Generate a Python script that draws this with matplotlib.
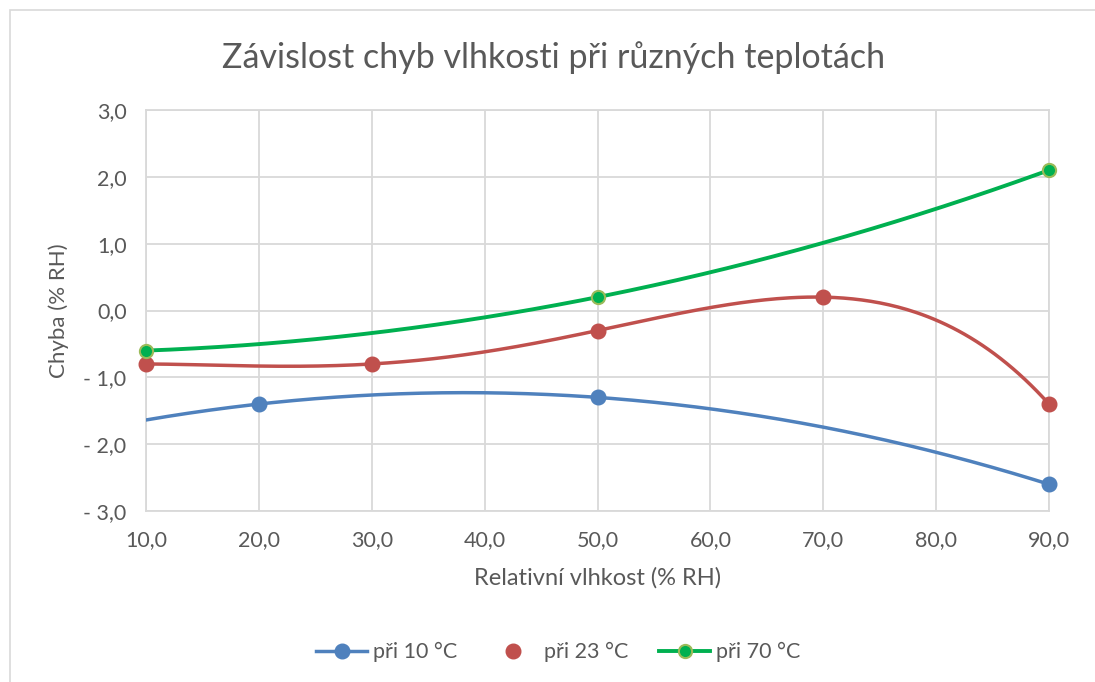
import numpy as np
import matplotlib
matplotlib.use("Agg")
import matplotlib.pyplot as plt
from matplotlib.lines import Line2D
from matplotlib.patches import Rectangle
from matplotlib.ticker import FuncFormatter, MultipleLocator

plt.rcParams["font.family"] = ["Lato", "DejaVu Sans"]

# naměřené chyby (% RH)
rh_10 = [20, 50, 90]
err_10 = [-1.4, -1.3, -2.6]
rh_23 = [10, 30, 50, 70, 90]
err_23 = [-0.8, -0.8, -0.3, 0.2, -1.4]
rh_70 = [10, 50, 90]
err_70 = [-0.6, 0.2, 2.1]

labels = ["při 10 °C", "při 23 °C", "při 70 °C"]

text_col = "#595959"
grid_col = "#D9D9D9"
blue = "#4F81BD"
red = "#C0504D"
green = "#00B050"
green_edge = "#9BBB59"

fig = plt.figure(figsize=(10.95, 6.82), dpi=100)
fig.patches.append(Rectangle((10 / 1095, -0.1), 1.2, 1 - 10 / 682 + 0.1,
                             transform=fig.transFigure, fill=False,
                             edgecolor=grid_col, lw=1.2))
ax = fig.add_axes([146 / 1095, 1 - 511 / 682, (1049 - 146) / 1095, (511 - 110) / 682])

xs = np.linspace(10, 90, 300)

# polynomiální trendy
p10 = np.polyfit(rh_10, err_10, 2)
p23 = np.polyfit(rh_23, err_23, 4)
p70 = np.polyfit(rh_70, err_70, 2)

ax.plot(xs, np.polyval(p10, xs), color=blue, lw=2.5, solid_capstyle="round", zorder=3)
ax.plot(xs, np.polyval(p23, xs), color=red, lw=2.5, solid_capstyle="round", zorder=3)
ax.plot(xs, np.polyval(p70, xs), color=green, lw=2.8, solid_capstyle="round", zorder=3)

ax.plot(rh_10, err_10, "o", color=blue, ms=10.5, mec=blue, clip_on=False, zorder=4)
ax.plot(rh_23, err_23, "o", color=red, ms=10.5, mec=red, clip_on=False, zorder=4)
ax.plot(rh_70, err_70, "o", color=green, ms=9.5, mec=green_edge, mew=1.5, clip_on=False, zorder=5)

ax.set_xlim(10, 90)
ax.set_ylim(-3, 3)
ax.xaxis.set_major_locator(MultipleLocator(10))
ax.yaxis.set_major_locator(MultipleLocator(1))


def fmt(v, pos):
    s = f"{abs(v):.1f}".replace(".", ",")
    return ("- " + s) if v < -1e-9 else s


ax.xaxis.set_major_formatter(FuncFormatter(lambda v, p: f"{v:.1f}".replace(".", ",")))
ax.yaxis.set_major_formatter(FuncFormatter(fmt))
ax.grid(True, color=grid_col, lw=1.3)
ax.set_axisbelow(True)
for s in ax.spines.values():
    s.set_color(grid_col)
    s.set_linewidth(1.3)
ax.tick_params(length=0, labelsize=15.5, labelcolor=text_col, pad=14)

ax.set_xlabel("Relativní vlhkost (% RH)", fontsize=17, color=text_col, labelpad=12)
ax.set_ylabel("Chyba (% RH)", fontsize=16, color=text_col, labelpad=10)
fig.text(554 / 1095, 1 - 58 / 682,
         "Závislost chyb vlhkosti při různých teplotách",
         ha="center", va="center", fontsize=24.5, color=text_col)

handles = [
    Line2D([], [], color=blue, lw=2.5, marker="o", ms=10.5),
    Line2D([], [], color=red, lw=0, marker="o", ms=10.5),
    Line2D([], [], color=green, lw=2.8, marker="o", ms=9.5, mec=green_edge, mew=1.5),
]
fig.legend(handles, labels, loc="center", bbox_to_anchor=(558 / 1095, 1 - 652 / 682),
           ncol=3, frameon=False, fontsize=15.5, labelcolor=text_col,
           handlelength=2.4, handletextpad=0.25, columnspacing=1.4)

fig.savefig("out.png", dpi=100)
